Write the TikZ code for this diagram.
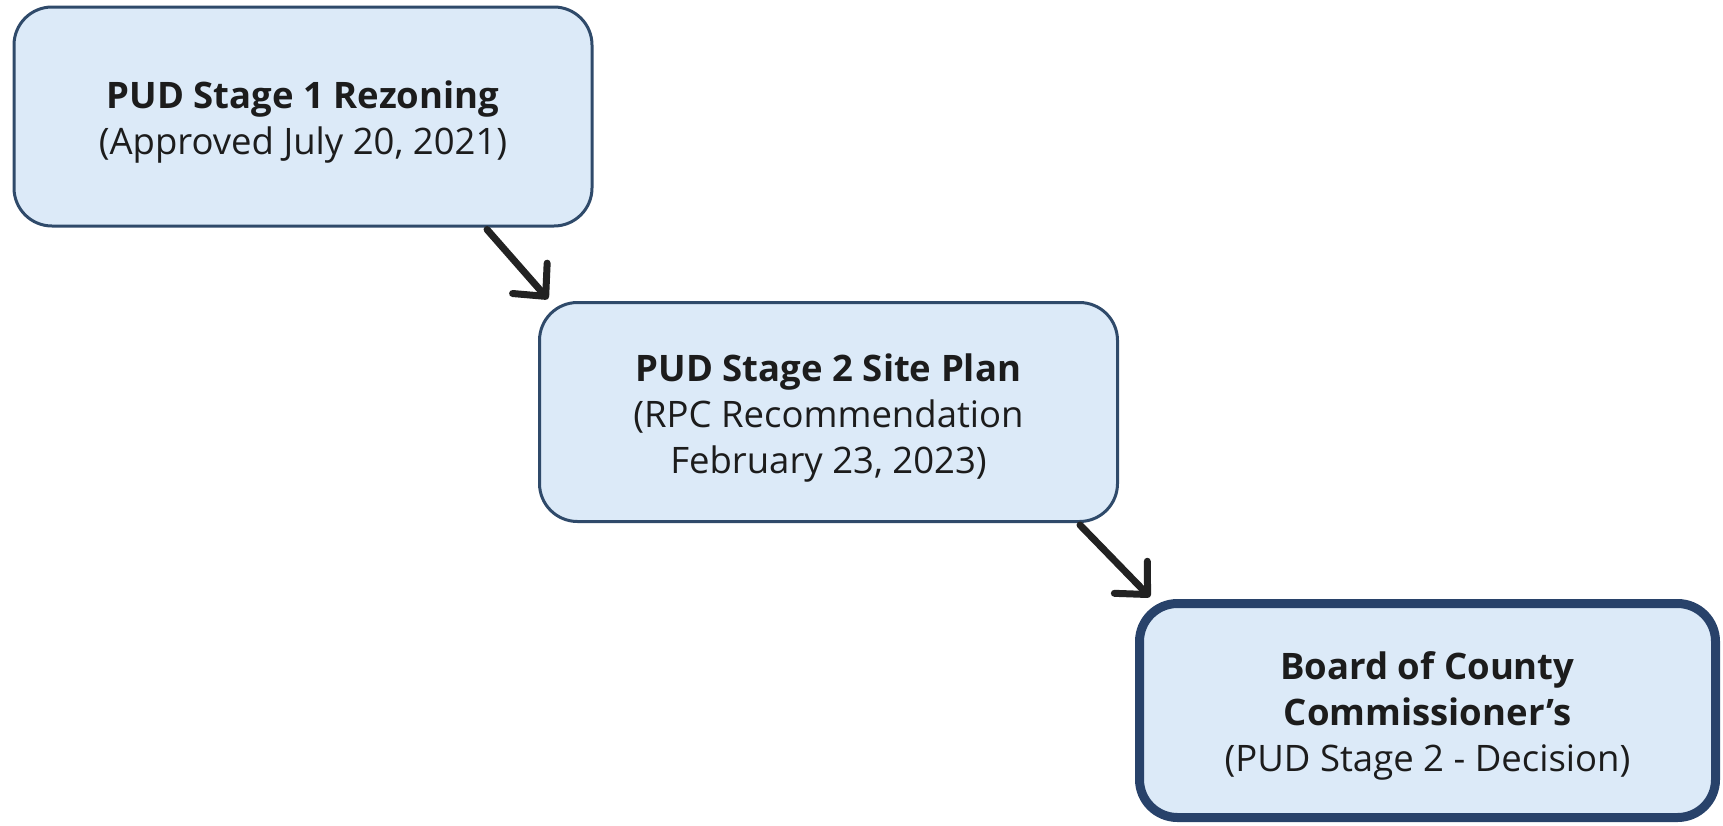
\documentclass[tikz,border=0pt]{standalone}
\usepackage{fontspec}
\setmainfont{Open Sans}
\usetikzlibrary{arrows.meta}
\definecolor{boxfill}{HTML}{DCEAF8}
\definecolor{boxline}{HTML}{2F4A6A}
\definecolor{boxthick}{HTML}{28426A}
\definecolor{arrowcol}{HTML}{222222}
\definecolor{txt}{HTML}{1C1C1C}
\begin{document}
\begin{tikzpicture}[x=1pt,y=-1pt,
  stagebox/.style={draw=boxline, line width=3pt, fill=boxfill, rounded corners=38pt,
    minimum width=578pt, minimum height=219pt, inner sep=0pt},
  finalbox/.style={stagebox, draw=boxthick, line width=9pt, minimum width=576pt, minimum height=214pt},
  stagetext/.style={align=center, text=txt, font=\fontsize{36.5}{46}\selectfont, inner sep=0pt},
  flow/.style={draw=arrowcol, line width=7pt, line cap=round,
    -{Straight Barb[length=24pt, width=46pt, line width=7pt, round]}}]
\useasboundingbox (0,0) rectangle (1723,825);
\node[stagebox] (s1) at (303,116.5) {};
\node[stagetext] (t1) at ([yshift=-6pt]s1.center) {\textbf{PUD Stage 1 Rezoning}\\(Approved July 20, 2021)};
\node[stagebox] (s2) at (828.5,412) {};
\node[stagetext] (t2) at ([yshift=-6pt]s2.center) {\textbf{PUD Stage 2 Site Plan}\\(RPC Recommendation\\February 23, 2023)};
\node[finalbox] (s3) at (1427.5,710.5) {};
\node[stagetext] (t3) at ([yshift=-5pt]s3.center) {\textbf{Board of County}\\\textbf{Commissioner’s}\\(PUD Stage 2 - Decision)};
\draw[flow] (s1.south -| 487,0) ++(0,2) coordinate (a1) -- (548,299);
\draw[flow] (s2.south -| 1080,0) ++(0,2) coordinate (a2) -- (1150,597);
\end{tikzpicture}
\end{document}
